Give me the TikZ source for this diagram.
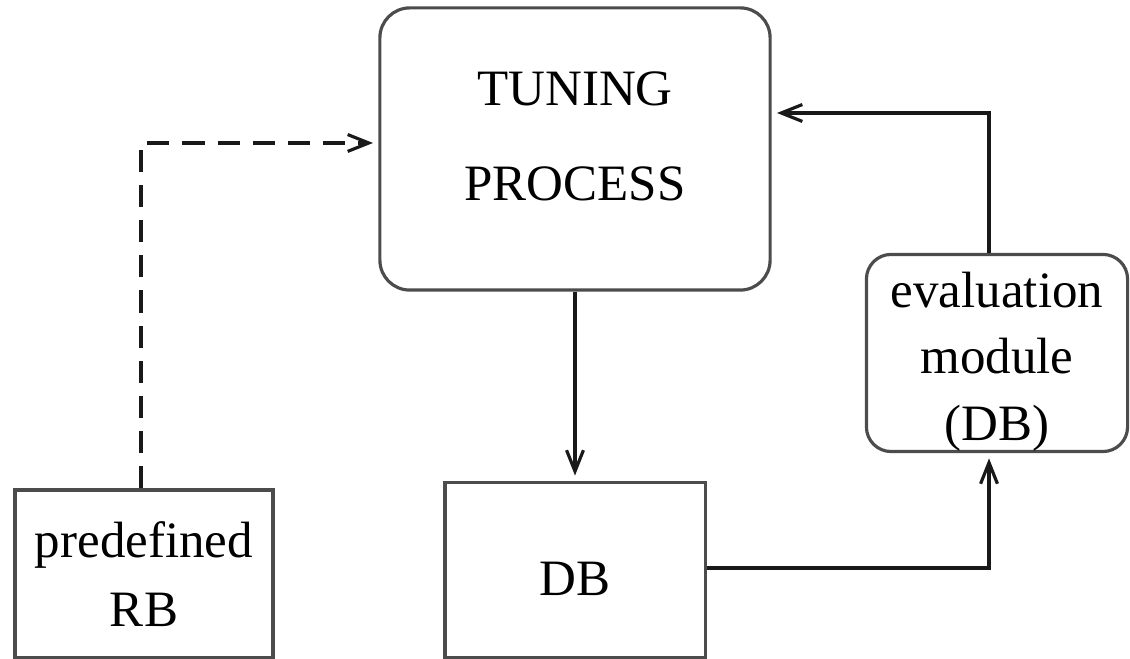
\documentclass[tikz,border=0pt]{standalone}
\usepackage{fontspec}
\setmainfont{Liberation Serif}
\usetikzlibrary{arrows.meta}

\begin{document}
\begin{tikzpicture}[x=0.01cm,y=-0.01cm,
		box/.style={draw=black!70,line width=0.9pt,inner sep=0pt,align=center,font=\fontsize{14.5}{19.5}\selectfont},
		rbox/.style={box,rounded corners=8.5pt},
		link/.style={line width=0.9pt,draw=black!90},
		tip/.style={-{Straight Barb[length=6pt,width=4.8pt]},shorten >=1.5pt}]
		\useasboundingbox (0,0) rectangle (1130,659);
		
		\node[rbox,minimum width=3.9cm,minimum height=2.82cm,font=\fontsize{14.5}{27}\selectfont] (tuning) at (575,149) {TUNING\\PROCESS\rule[-0.26cm]{0pt}{0.26cm}};
		\node[box,minimum width=2.58cm,minimum height=1.68cm] (rb) at (144,574) {predefined\\RB};
		\node[box,minimum width=2.6cm,minimum height=1.75cm] (db) at (575,570) {DB\rule{0pt}{14.7pt}};
		\node[rbox,rounded corners=7pt,minimum width=2.61cm,minimum height=1.97cm,font=\fontsize{14.5}{18.8}\selectfont] (eval) at (997,353) {evaluation\rule{0pt}{15pt}\\module\\(DB)};
		
		\coordinate (rbup) at (141,143);
		\coordinate (evalup) at (989,113);
		\coordinate (dbright) at (989,568);
		
		\draw[link,tip,dash pattern=on 6.3pt off 3.7pt] (rb.north -| rbup) -- (rbup) -- (rbup -| tuning.west);
		\draw[link,tip] (tuning.south) -- (db.north);
		\draw[link,tip] (db.east |- dbright) -- (dbright) -- (eval.south -| dbright);
		\draw[link,tip] (eval.north -| evalup) -- (evalup) -- (evalup -| tuning.east);
	\end{tikzpicture}
\end{document}
